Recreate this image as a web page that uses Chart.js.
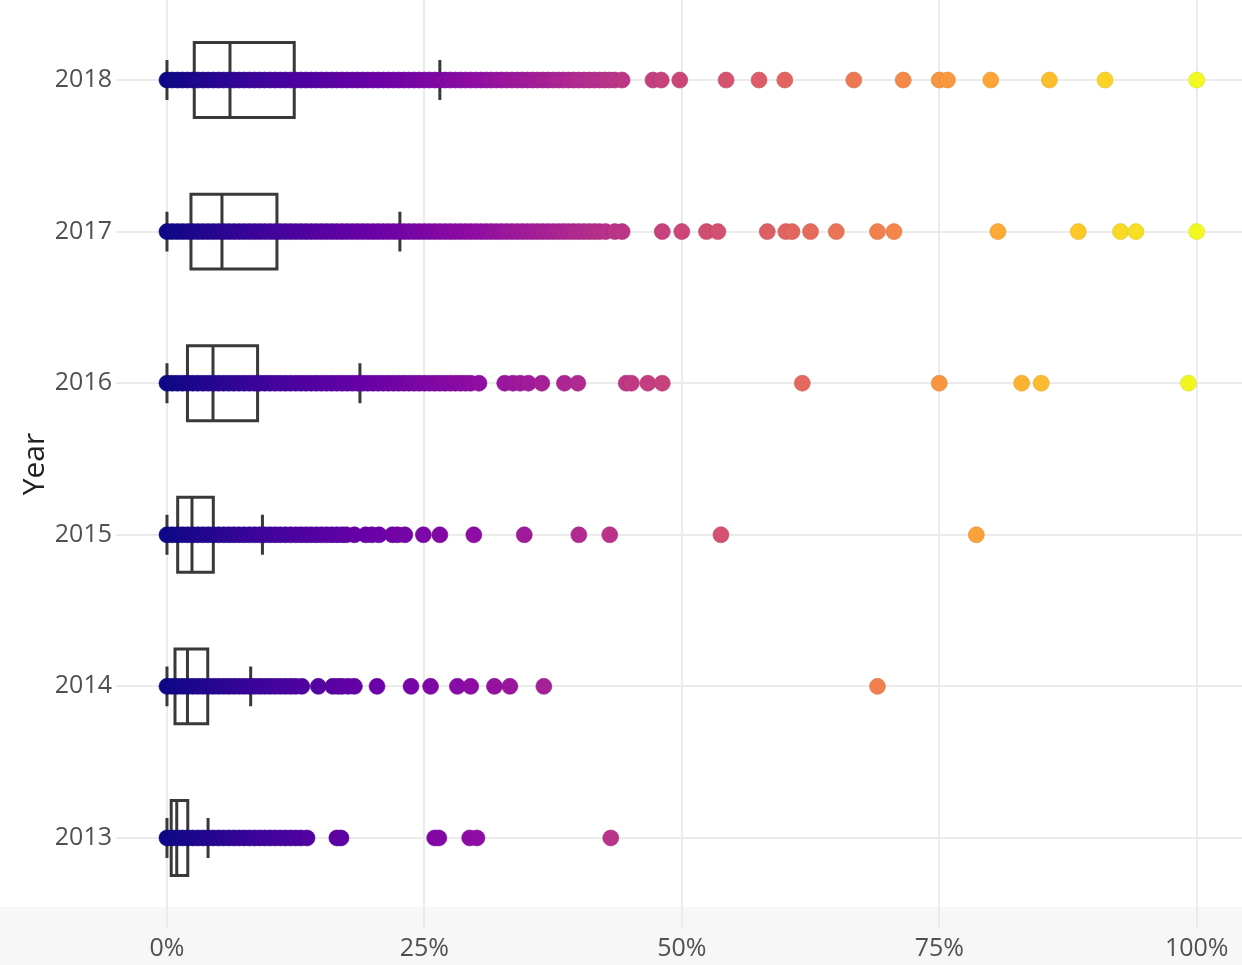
<!DOCTYPE html>
<html><head><meta charset="utf-8">
<script src="https://cdn.jsdelivr.net/npm/chart.js@4/dist/chart.umd.min.js"></script>
<style>html,body{margin:0;padding:0;background:#fff;overflow:hidden}canvas{display:block}</style>
</head><body>
<canvas id="c" width="1242" height="965"></canvas>
<script>
// ---------- DATA ----------
const years = [2013, 2014, 2015, 2016, 2017, 2018];
const xTickValues = [0, 25, 50, 75, 100];

// box statistics (percent) per year, same order as `years`
const whiskerLo = [0, 0, 0, 0, 0, 0];
const q1        = [0.41, 0.78, 1.04, 1.99, 2.33, 2.65];
const median    = [0.95, 1.99, 2.43, 4.47, 5.34, 6.12];
const q3        = [2.02, 3.96, 4.50, 8.80, 10.68, 12.36];
const whiskerHi = [3.99, 8.13, 9.27, 18.74, 22.62, 26.50];

// observed points (percent) per year
const pts2013 = [0,0.5,1,1.5,2,2.5,3,3.5,4,4.5,5,5.5,6,6.5,7,7.5,8,8.5,9,9.5,10,10.5,11,11.5,12,12.5,13,13.6,
  16.5,16.9,26.0,26.4,29.4,30.1,43.1];
const pts2014 = [0,0.5,1,1.5,2,2.5,3,3.5,4,4.5,5,5.5,6,6.5,7,7.5,8,8.5,9,9.5,10,10.5,11,11.5,12,12.5,13.1,
  14.7,16.1,16.6,17.0,17.6,18.2,20.4,23.7,25.6,28.2,29.5,31.8,33.3,36.6,69.0];
const pts2015 = [0,0.5,1,1.5,2,2.5,3,3.5,4,4.5,5,5.5,6,6.5,7,7.5,8,8.5,9,9.5,10,10.5,11,11.5,12,12.5,13,13.5,14,14.5,15,15.5,16,16.5,17,17.4,
  18.2,19.3,19.9,20.6,21.9,22.4,23.1,24.9,26.5,29.8,34.7,40.0,43.0,53.8,78.6];
const pts2016 = [0,0.5,1,1.5,2,2.5,3,3.5,4,4.5,5,5.5,6,6.5,7,7.5,8,8.5,9,9.5,10,10.5,11,11.5,12,12.5,13,13.5,14,14.5,15,15.5,16,16.5,17,17.5,18,18.5,19,19.5,20,20.5,21,21.5,22,22.5,23,23.5,24,24.5,25,25.5,26,26.5,27,27.5,28,28.5,29,29.5,30.3,
  32.8,33.6,34.3,35.1,36.4,38.6,39.9,44.6,45.1,46.7,48.1,61.7,75.0,83.0,84.9,99.2];
const pts2017 = [0,0.5,1,1.5,2,2.5,3,3.5,4,4.5,5,5.5,6,6.5,7,7.5,8,8.5,9,9.5,10,10.5,11,11.5,12,12.5,13,13.5,14,14.5,15,15.5,16,16.5,17,17.5,18,18.5,19,19.5,20,20.5,21,21.5,22,22.5,23,23.5,24,24.5,25,25.5,26,26.5,27,27.5,28,28.5,29,29.5,30,30.5,31,31.5,32,32.5,33,33.5,34,34.5,35,35.5,36,36.5,37,37.5,38,38.5,39,39.5,40,40.5,41,41.5,42,42.6,43.5,44.2,
  48.1,50.0,52.4,53.5,58.3,60.1,60.7,62.5,65.0,69.0,70.6,80.7,88.5,92.6,94.1,100];
const pts2018 = [0,0.5,1,1.5,2,2.5,3,3.5,4,4.5,5,5.5,6,6.5,7,7.5,8,8.5,9,9.5,10,10.5,11,11.5,12,12.5,13,13.5,14,14.5,15,15.5,16,16.5,17,17.5,18,18.5,19,19.5,20,20.5,21,21.5,22,22.5,23,23.5,24,24.5,25,25.5,26,26.5,27,27.5,28,28.5,29,29.5,30,30.5,31,31.5,32,32.5,33,33.5,34,34.5,35,35.5,36,36.5,37,37.5,38,38.5,39,39.5,40,40.5,41,41.5,42,42.5,43,43.5,44.2,
  47.2,48.0,49.8,54.3,57.5,60.0,66.7,71.5,75.0,75.8,80.0,85.7,91.1,100];
const pointsByYear = [pts2013, pts2014, pts2015, pts2016, pts2017, pts2018];

// ---------- STYLE ----------
const BOX_HALF = 0.247;   // half box height in category units
const CAP_HALF = 0.122;   // half whisker-cap height
const plasmaStops = ['#0d0887','#41049d','#6a00a8','#8f0da4','#b12a90','#cc4778','#e16462','#f2844b','#fca636','#fcce25','#f0f921'];
function hexToRgb(h){return [parseInt(h.slice(1,3),16),parseInt(h.slice(3,5),16),parseInt(h.slice(5,7),16)];}
function plasma(t, k){
  t = Math.max(0, Math.min(1, t));
  const p = t * (plasmaStops.length - 1);
  const i = Math.min(Math.floor(p), plasmaStops.length - 2);
  const f = p - i;
  const a = hexToRgb(plasmaStops[i]), b = hexToRgb(plasmaStops[i+1]);
  const c = a.map((v, j) => Math.round((v + (b[j]-v)*f) * (k||1)));
  return `rgb(${c[0]},${c[1]},${c[2]})`;
}

const datasets = [];
years.forEach((yr, i) => {
  const gap = {x: null, y: null};
  const boxPath = [
    {x:q1[i], y:yr-BOX_HALF},{x:q3[i], y:yr-BOX_HALF},{x:q3[i], y:yr+BOX_HALF},{x:q1[i], y:yr+BOX_HALF},{x:q1[i], y:yr-BOX_HALF}, gap,
    {x:median[i], y:yr-BOX_HALF},{x:median[i], y:yr+BOX_HALF}, gap,
    {x:whiskerLo[i], y:yr-CAP_HALF},{x:whiskerLo[i], y:yr+CAP_HALF}, gap,
    {x:whiskerLo[i], y:yr},{x:q1[i], y:yr}, gap,
    {x:q3[i], y:yr},{x:whiskerHi[i], y:yr}, gap,
    {x:whiskerHi[i], y:yr-CAP_HALF},{x:whiskerHi[i], y:yr+CAP_HALF}
  ];
  datasets.push({
    type:'line', data: boxPath, showLine:true, spanGaps:false,
    borderColor:'#393939', borderWidth:3, pointRadius:0, fill:false, tension:0, order:2,
    borderCapStyle:'square', borderJoinStyle:'miter'
  });
  const vals = pointsByYear[i];
  datasets.push({
    type:'scatter', data: vals.map(v => ({x:v, y:yr})),
    pointRadius:8, pointHoverRadius:8,
    pointBackgroundColor: vals.map(v => plasma(v/100)),
    pointBorderColor: vals.map(v => plasma(v/100, 0.9)),
    pointBorderWidth:0.6, order:1
  });
});

const bottomBand = {
  id:'bottomBand',
  beforeDraw(chart){
    const ctx = chart.ctx;
    ctx.save();
    ctx.fillStyle = '#f7f7f7';
    ctx.fillRect(0, 907, chart.width, chart.height - 907);
    ctx.restore();
  }
};

new Chart(document.getElementById('c'), {
  type:'scatter',
  data:{datasets},
  plugins:[bottomBand],
  options:{
    responsive:false, animation:false,
    layout:{padding:0, autoPadding:false},
    plugins:{legend:{display:false}, tooltip:{enabled:false}},
    scales:{
      x:{
        type:'linear', min:-4.95, max:104.4,
        afterBuildTicks: s => { s.ticks = xTickValues.map(v => ({value:v})); },
        afterFit: s => { s.height = 37; s.paddingLeft = 0; s.paddingRight = 0; },
        ticks:{callback: v => v + '%', color:'#505050', font:{family:'Open Sans', size:25}, padding:6, maxRotation:0, autoSkip:false},
        grid:{color:'#ebebeb', lineWidth:2, drawTicks:false},
        border:{display:false}
      },
      y:{
        type:'linear', min:2012.406, max:2018.528,
        afterBuildTicks: s => { s.ticks = years.map(v => ({value:v})); },
        afterFit: s => { s.width = 116; s.paddingTop = 0; s.paddingBottom = 0; },
        ticks:{callback: v => String(v), color:'#505050', font:{family:'Open Sans', size:25}, padding:4, autoSkip:false},
        grid:{color:'#ebebeb', lineWidth:2, drawTicks:false},
        border:{display:false},
        title:{display:true, text:'Year', color:'#222', font:{family:'Open Sans', size:30}, padding:{top:17, bottom:0}}
      }
    }
  }
});
</script>
</body></html>
